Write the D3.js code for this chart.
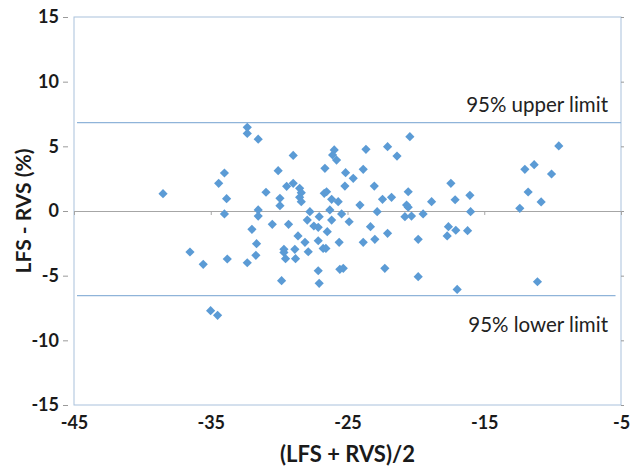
<!DOCTYPE html>
<html>
<head>
<meta charset="utf-8">
<script src="https://cdn.jsdelivr.net/npm/d3@7"></script>
<style>
  body { margin: 0; background: #fff; }
  svg text { font-family: Lato, "Open Sans", sans-serif; }
</style>
</head>
<body>
<div id="chart"></div>
<script>
// Bland-Altman: LFS vs RVS

// mean of the two methods (x)
const meanValues = [
  -32.33, -32.33, -31.53, -28.97, -34.0, -34.42, -38.49, -30.07, -29.45, -28.97, -30.96, -33.84, -29.94, -29.94, -34.0, -31.53, -31.53,
  -30.5, -29.31, -31.99, -28.62, -31.65, -36.52, -35.55, -33.79, -32.33, -31.7, -29.65, -29.65, -29.53, -28.85, -28.8, -29.82, -35.01, -34.5,
  -25.97, -26.09, -25.8, -23.65, -22.07, -21.38, -20.44, -26.65, -25.14, -23.85, -24.58, -25.19, -23.04, -28.5, -28.38, -28.5, -28.38,
  -26.7, -26.53, -26.16, -25.68, -24.09, -22.44, -21.78, -20.56, -20.68, -20.56, -18.85, -27.75, -27.07, -26.29, -25.43, -22.83, -20.8, -20.32, -19.47,
  -24.88, -27.94, -27.46, -27.14, -26.48, -26.16, -28.11, -27.14, -27.87, -26.78, -26.58, -25.61, -23.32, -23.85, -23.0, -22.07, -19.83,
  -27.14, -27.07, -25.56, -25.31, -22.27, -19.83,
  -9.55, -12.03, -11.35, -10.08, -11.79, -10.84, -12.4, -17.44, -17.13, -16.05, -16.0, -17.62, -17.71, -17.08, -16.22, -16.98, -11.11
];

// difference LFS - RVS (y)
const diffValues = [
  6.47, 6.0, 5.55, 4.3, 2.94, 2.14, 1.34, 3.12, 1.91, 2.14, 1.45, 0.95, 0.98, 0.41, -0.23, 0.08, -0.39,
  -1.03, -1.03, -1.42, -1.93, -2.53, -3.17, -4.12, -3.71, -4.0, -3.43, -2.96, -3.2, -3.69, -2.96, -3.69, -5.39, -7.71, -8.07,
  4.72, 4.33, 3.94, 4.77, 4.97, 4.25, 5.75, 3.3, 2.96, 3.22, 2.53, 1.93, 1.93, 1.75, 1.42, 1.06, 0.72,
  1.37, 1.49, 0.9, 0.72, 0.46, 0.9, 1.06, 1.49, 0.46, 0.29, 0.72, -0.05, -0.44, 0.08, -0.23, -0.05, -0.44, -0.39, -0.23,
  -0.83, -0.7, -1.16, -1.26, -1.6, -0.7, -2.42, -2.3, -3.15, -2.89, -2.89, -2.42, -1.21, -2.42, -2.19, -1.73, -2.19,
  -4.62, -5.59, -4.51, -4.43, -4.43, -5.08,
  5.03, 3.22, 3.58, 2.86, 1.47, 0.7, 0.21, 2.14, 0.87, 1.21, -0.05, -1.21, -1.93, -1.49, -1.52, -6.06, -5.47
];

const upperLimit = 6.83;
const lowerLimit = -6.55;
const limitLabels = ["95% upper limit", "95% lower limit"];

const xTicks = [-45, -35, -25, -15, -5];
const yTicks = [-15, -10, -5, 0, 5, 10, 15];

const xTitle = "(LFS + RVS)/2";
const yTitle = "LFS - RVS (%)";

/***** BASIC SETUP *****/
const width = 630;
const height = 472;
const margin = {top: 17, left: 74, right: 9, bottom: 67};

const svg = d3.select("#chart")
  .append("svg")
  .attr("width", width)
  .attr("height", height);

/***** SCALES *****/
const x = d3.scaleLinear()
  .domain([-45, -5])
  .range([margin.left, width - margin.right]);

const y = d3.scaleLinear()
  .domain([-15, 15])
  .range([height - margin.bottom, margin.top]);

const data = meanValues.map((m, i) => ({mean: m, diff: diffValues[i]}));
const plainNum = d => String(d);   // keep the short hyphen like the original

/***** PLOT FRAME *****/
svg.append("rect")
  .attr("x", x(-45))
  .attr("y", y(15))
  .attr("width", x(-5) - x(-45))
  .attr("height", y(-15) - y(15))
  .attr("fill", "none")
  .attr("stroke", "#a9c1dc")
  .attr("stroke-width", 1);

// left ticks + labels (detached from frame)
const yAxis = svg.append("g")
  .attr("transform", `translate(${x(-45) - 6},0)`)
  .call(d3.axisLeft(y).tickValues(yTicks).tickSizeInner(5).tickSizeOuter(0).tickPadding(4).tickFormat(plainNum));
yAxis.select(".domain").remove();
yAxis.selectAll(".tick line").attr("stroke", "#9a9a9a");
yAxis.selectAll("text")
  .attr("font-size", 18)
  .attr("font-weight", "bold")
  .attr("fill", "#1a1a1a");

// right side small ticks
const yAxisRight = svg.append("g")
  .attr("transform", `translate(${x(-5)},0)`)
  .call(d3.axisRight(y).tickValues(yTicks).tickSizeInner(3).tickSizeOuter(0).tickFormat(""));
yAxisRight.select(".domain").remove();
yAxisRight.selectAll(".tick line").attr("stroke", "#9a9a9a");

// zero line with tick marks
const zeroAxis = svg.append("g")
  .attr("transform", `translate(0,${y(0)})`)
  .call(d3.axisBottom(x).tickValues(xTicks).tickSizeInner(4).tickSizeOuter(0).tickFormat(""));
zeroAxis.select(".domain").attr("stroke", "#a6a6a6").attr("stroke-width", 1.2);
zeroAxis.selectAll(".tick line").attr("stroke", "#a6a6a6");

// x labels at bottom
const xAxis = svg.append("g")
  .attr("transform", `translate(0,${y(-15)})`)
  .call(d3.axisBottom(x).tickValues(xTicks).tickSize(0).tickPadding(11).tickFormat(plainNum));
xAxis.select(".domain").remove();
xAxis.selectAll("text")
  .attr("font-size", 18)
  .attr("font-weight", "bold")
  .attr("fill", "#1a1a1a");

/***** LIMIT LINES *****/
const limits = svg.append("g").attr("id", "limits");

limits.selectAll("line")
  .data([upperLimit, lowerLimit])
  .enter()
  .append("line")
  .attr("x1", x(-44.78))
  .attr("x2", (d, i) => i === 0 ? x(-5) : x(-5.4))
  .attr("y1", d => y(d))
  .attr("y2", d => y(d))
  .attr("stroke", "#8fb4d9")
  .attr("stroke-width", 1.3);

limits.selectAll("text")
  .data([upperLimit, lowerLimit])
  .enter()
  .append("text")
  .attr("x", x(-5.95))
  .attr("y", (d, i) => i === 0 ? y(d) - 11 : y(d) + 36)
  .attr("text-anchor", "end")
  .attr("font-size", 20.5)
  .attr("fill", "#222")
  .text((d, i) => limitLabels[i]);

/***** POINTS *****/
const r = 4.6;
const diamond = `M0,${-r}L${r},0L0,${r}L${-r},0Z`;

svg.append("g")
  .attr("id", "points")
  .selectAll("path")
  .data(data)
  .enter()
  .append("path")
  .attr("d", diamond)
  .attr("transform", d => `translate(${x(d.mean)},${y(d.diff)})`)
  .attr("fill", "#5b9bd5");

/***** TITLES *****/
svg.append("text")
  .attr("x", (x(-45) + x(-5)) / 2)
  .attr("y", 462)
  .attr("text-anchor", "middle")
  .attr("font-size", 22)
  .attr("font-weight", "bold")
  .attr("fill", "#1a1a1a")
  .text(xTitle);

svg.append("text")
  .attr("transform", `translate(31,${y(0)}) rotate(-90)`)
  .attr("text-anchor", "middle")
  .attr("font-size", 21)
  .attr("font-weight", "bold")
  .attr("fill", "#1a1a1a")
  .text(yTitle);
</script>
</body>
</html>
